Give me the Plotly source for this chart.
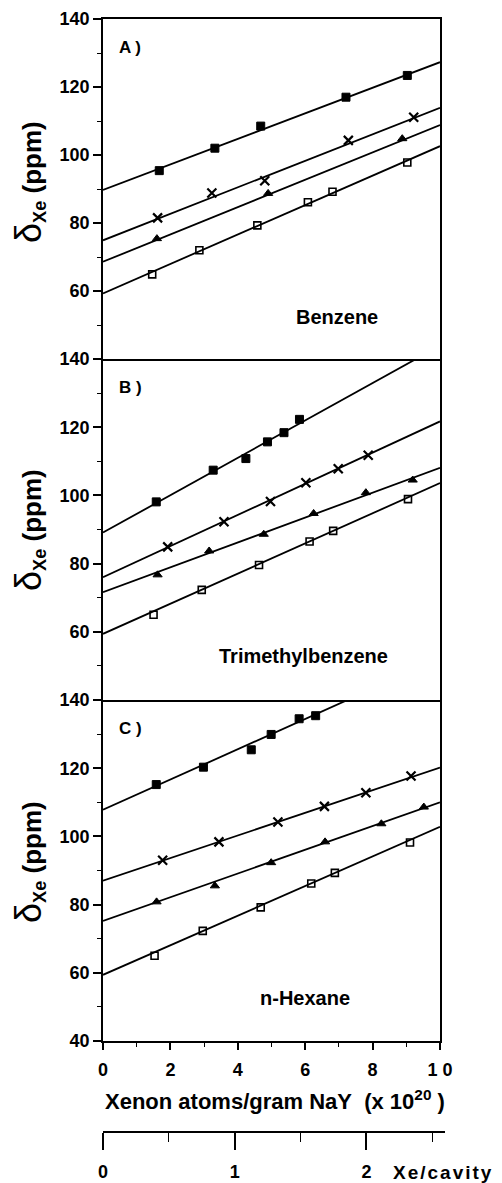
import plotly.graph_objects as go

# ---------------- data ----------------
# Panel A: Benzene
xA_fsq = [1.67, 3.32, 4.68, 7.21, 9.03]
yA_fsq = [95.4, 102.0, 108.5, 117.0, 123.4]
xA_x = [1.62, 3.23, 4.80, 7.28, 9.22]
yA_x = [81.5, 88.8, 92.4, 104.3, 111.1]
xA_tri = [1.60, 4.90, 8.88]
yA_tri = [75.4, 88.7, 104.8]
xA_osq = [1.46, 2.86, 4.58, 6.08, 6.81, 9.03]
yA_osq = [64.9, 72.0, 79.3, 86.1, 89.2, 97.8]
fitA_intercept = [89.7, 74.9, 68.6, 59.3]
fitA_slope = [3.76, 3.90, 4.02, 4.33]

# Panel B: Trimethylbenzene
xB_fsq = [1.58, 3.27, 4.24, 4.88, 5.37, 5.83]
yB_fsq = [98.1, 107.4, 110.8, 115.7, 118.4, 122.3]
xB_x = [1.92, 3.59, 4.97, 6.02, 6.98, 7.87]
yB_x = [84.9, 92.3, 98.2, 103.7, 107.8, 111.8]
xB_tri = [1.62, 3.15, 4.77, 6.25, 7.80, 9.19]
yB_tri = [76.7, 83.7, 88.6, 94.7, 100.8, 104.5]
xB_osq = [1.50, 2.93, 4.63, 6.13, 6.83, 9.05]
yB_osq = [65.0, 72.3, 79.6, 86.5, 89.6, 98.9]
fitB_intercept = [89.1, 76.0, 71.6, 59.4]
fitB_slope = [5.48, 4.57, 3.65, 4.42]

# Panel C: n-Hexane
xC_fsq = [1.58, 2.98, 4.40, 4.99, 5.82, 6.31]
yC_fsq = [115.2, 120.3, 125.4, 129.9, 134.5, 135.4]
xC_x = [1.77, 3.44, 5.19, 6.57, 7.80, 9.14]
yC_x = [93.0, 98.4, 104.2, 108.8, 112.8, 117.7]
xC_tri = [1.59, 3.32, 4.99, 6.59, 8.26, 9.52]
yC_tri = [80.8, 85.5, 92.3, 98.4, 103.7, 108.6]
xC_osq = [1.53, 2.96, 4.68, 6.18, 6.88, 9.11]
yC_osq = [65.0, 72.3, 79.2, 86.2, 89.3, 98.2]
fitC_intercept = [107.8, 87.0, 75.2, 59.4]
fitC_slope = [4.44, 3.32, 3.48, 4.34]

panel_labels = ["A )", "B )", "C )"]
solvent_names = ["Benzene", "Trimethylbenzene", "n-Hexane"]
x_ticks = [0, 2, 4, 6, 8, 10]
x_ticktext = ["0", "2", "4", "6", "8", "1 0"]
y_ticks_AB = [60, 80, 100, 120, 140]
y_ticks_C = [40, 60, 80, 100, 120, 140]
cav_ticks = [0, 1, 2]
fit_x_range = [0, 10]

# ---------------- figure ----------------
FONT = "Liberation Sans"
fig = go.Figure()

marker_styles = [
    dict(symbol="square", size=8, color="black", line=dict(color="black", width=1)),
    dict(symbol="x-thin", size=9, color="black", line=dict(color="black", width=2.2)),
    dict(symbol="triangle-up", size=8, color="black", line=dict(color="black", width=1)),
    dict(symbol="square-open", size=7, color="black", line=dict(color="black", width=1.6)),
]

panels = [
    ([(xA_fsq, yA_fsq), (xA_x, yA_x), (xA_tri, yA_tri), (xA_osq, yA_osq)], fitA_intercept, fitA_slope),
    ([(xB_fsq, yB_fsq), (xB_x, yB_x), (xB_tri, yB_tri), (xB_osq, yB_osq)], fitB_intercept, fitB_slope),
    ([(xC_fsq, yC_fsq), (xC_x, yC_x), (xC_tri, yC_tri), (xC_osq, yC_osq)], fitC_intercept, fitC_slope),
]

for i, (series, b0, b1) in enumerate(panels):
    xa = "x" if i == 0 else f"x{i+1}"
    ya = "y" if i == 0 else f"y{i+1}"
    for k in range(4):
        fx = fit_x_range
        fy = [b0[k] + b1[k] * v for v in fx]
        fig.add_trace(go.Scatter(x=fx, y=fy, mode="lines", line=dict(color="black", width=1.8),
                                 xaxis=xa, yaxis=ya, showlegend=False, hoverinfo="skip"))
    for k, (sx, sy) in enumerate(series):
        fig.add_trace(go.Scatter(x=sx, y=sy, mode="markers", marker=marker_styles[k],
                                 xaxis=xa, yaxis=ya, showlegend=False, cliponaxis=True))

# invisible trace for the Xe/cavity axis
fig.add_trace(go.Scatter(x=[0], y=[0], mode="markers", marker=dict(opacity=0),
                         xaxis="x4", yaxis="y4", showlegend=False, hoverinfo="skip"))

H_TOT = 1112.0
def frac(py):
    return (1131 - py) / H_TOT

doms = [[frac(359), frac(19)], [frac(700), frac(359)], [frac(1041), frac(700)]]
xdom = [0, 337 / 342]

tickfont = dict(family=FONT, size=18, color="black", weight="bold")

layout = dict(
    width=502, height=1183,
    margin=dict(l=103, r=57, t=19, b=52, autoexpand=False),
    paper_bgcolor="white", plot_bgcolor="white",
    showlegend=False,
)

for i in range(3):
    xk = "xaxis" if i == 0 else f"xaxis{i+1}"
    yk = "yaxis" if i == 0 else f"yaxis{i+1}"
    ya = "y" if i == 0 else f"y{i+1}"
    xa = "x" if i == 0 else f"x{i+1}"
    bottom = (i == 2)
    xdict = dict(
        domain=xdom, anchor=ya, range=[0, 10], showgrid=False, zeroline=False, automargin=False,
        showline=True, mirror=(i == 0), linecolor="black", linewidth=1.8,
        ticks="outside" if bottom else "", ticklen=7, tickwidth=1.6, tickcolor="black",
        tickvals=x_ticks if bottom else [], ticktext=x_ticktext if bottom else [],
        showticklabels=bottom, tickfont=tickfont, ticklabelstandoff=4,
    )
    if bottom:
        xdict["minor"] = dict(dtick=1, tick0=0, ticks="outside", ticklen=4, tickwidth=1.4, tickcolor="black")
    layout[xk] = xdict
    yt = y_ticks_C if bottom else y_ticks_AB
    layout[yk] = dict(
        domain=doms[i], anchor=xa, range=[40, 140], showgrid=False, zeroline=False, automargin=False,
        showline=True, mirror=True, linecolor="black", linewidth=1.8,
        ticks="outside", ticklen=8, tickwidth=1.6, tickcolor="black",
        tickvals=yt, ticktext=[str(v) for v in yt], tickfont=tickfont,
        minor=dict(tickvals=[50, 70, 90, 110, 130], ticks="outside", ticklen=4, tickwidth=1.4, tickcolor="black"),
    )

layout["xaxis4"] = dict(
    domain=[0, 1], anchor="y4", range=[0, 342 / 131.7], showgrid=False, zeroline=False, automargin=False,
    showline=True, linecolor="black", linewidth=1.6, side="bottom",
    ticks="outside", ticklen=17, tickwidth=1.6, tickcolor="black",
    tickvals=cav_ticks, ticktext=[str(v) for v in cav_ticks], tickfont=tickfont,
    ticklabelstandoff=7,
    minor=dict(dtick=0.5, tick0=0, ticks="outside", ticklen=9, tickwidth=1.4, tickcolor="black"),
)
layout["yaxis4"] = dict(domain=[0, 0.001], anchor="x4", visible=False, range=[0, 1], automargin=False)

fig.update_layout(**layout)

ann = []
# panel letters and solvent names
for i in range(3):
    xa = "x" if i == 0 else f"x{i+1}"
    ya = "y" if i == 0 else f"y{i+1}"
    ann.append(dict(text=panel_labels[i], x=0.42, y=131.6, xref=xa, yref=ya, xanchor="left", yanchor="middle",
                    showarrow=False, font=dict(family=FONT, size=17, color="black", weight="bold")))
name_pos = [(6.94, 52.3), (5.96, 52.9), (5.99, 52.6)]
for i in range(3):
    xa = "x" if i == 0 else f"x{i+1}"
    ya = "y" if i == 0 else f"y{i+1}"
    ann.append(dict(text=solvent_names[i], x=name_pos[i][0], y=name_pos[i][1], xref=xa, yref=ya,
                    xanchor="center", yanchor="middle", showarrow=False,
                    font=dict(family=FONT, size=20, color="black", weight="bold")))
# y titles
ytitle = "<span style='font-size:36px;font-weight:normal'>δ</span><sub>Xe</sub> (ppm)"
for yc in [182, 530, 862]:
    ann.append(dict(text=ytitle, x=(29 - 103) / 342, y=frac(yc), xref="paper", yref="paper",
                    xanchor="center", yanchor="middle", textangle=-90, showarrow=False,
                    font=dict(family=FONT, size=26, color="black", weight="bold")))
# x title
ann.append(dict(text="Xenon atoms/gram NaY\u00a0\u00a0(x 10<sup>20</sup>\u00a0)", x=(275 - 103) / 342, y=frac(1100),
                xref="paper", yref="paper", xanchor="center", yanchor="middle", showarrow=False,
                font=dict(family=FONT, size=22, color="black", weight="bold")))
# Xe/cavity
ann.append(dict(text="<span style='letter-spacing:2px'>Xe/cavity</span>", x=(391 - 103) / 342, y=frac(1172),
                xref="paper", yref="paper", xanchor="left", yanchor="middle", showarrow=False,
                font=dict(family=FONT, size=19, color="black", weight="bold")))
fig.update_layout(annotations=ann)

fig.write_html("out.html", config={"displayModeBar": False},
               post_script="document.body.style.margin='0';document.body.style.overflow='hidden';")
